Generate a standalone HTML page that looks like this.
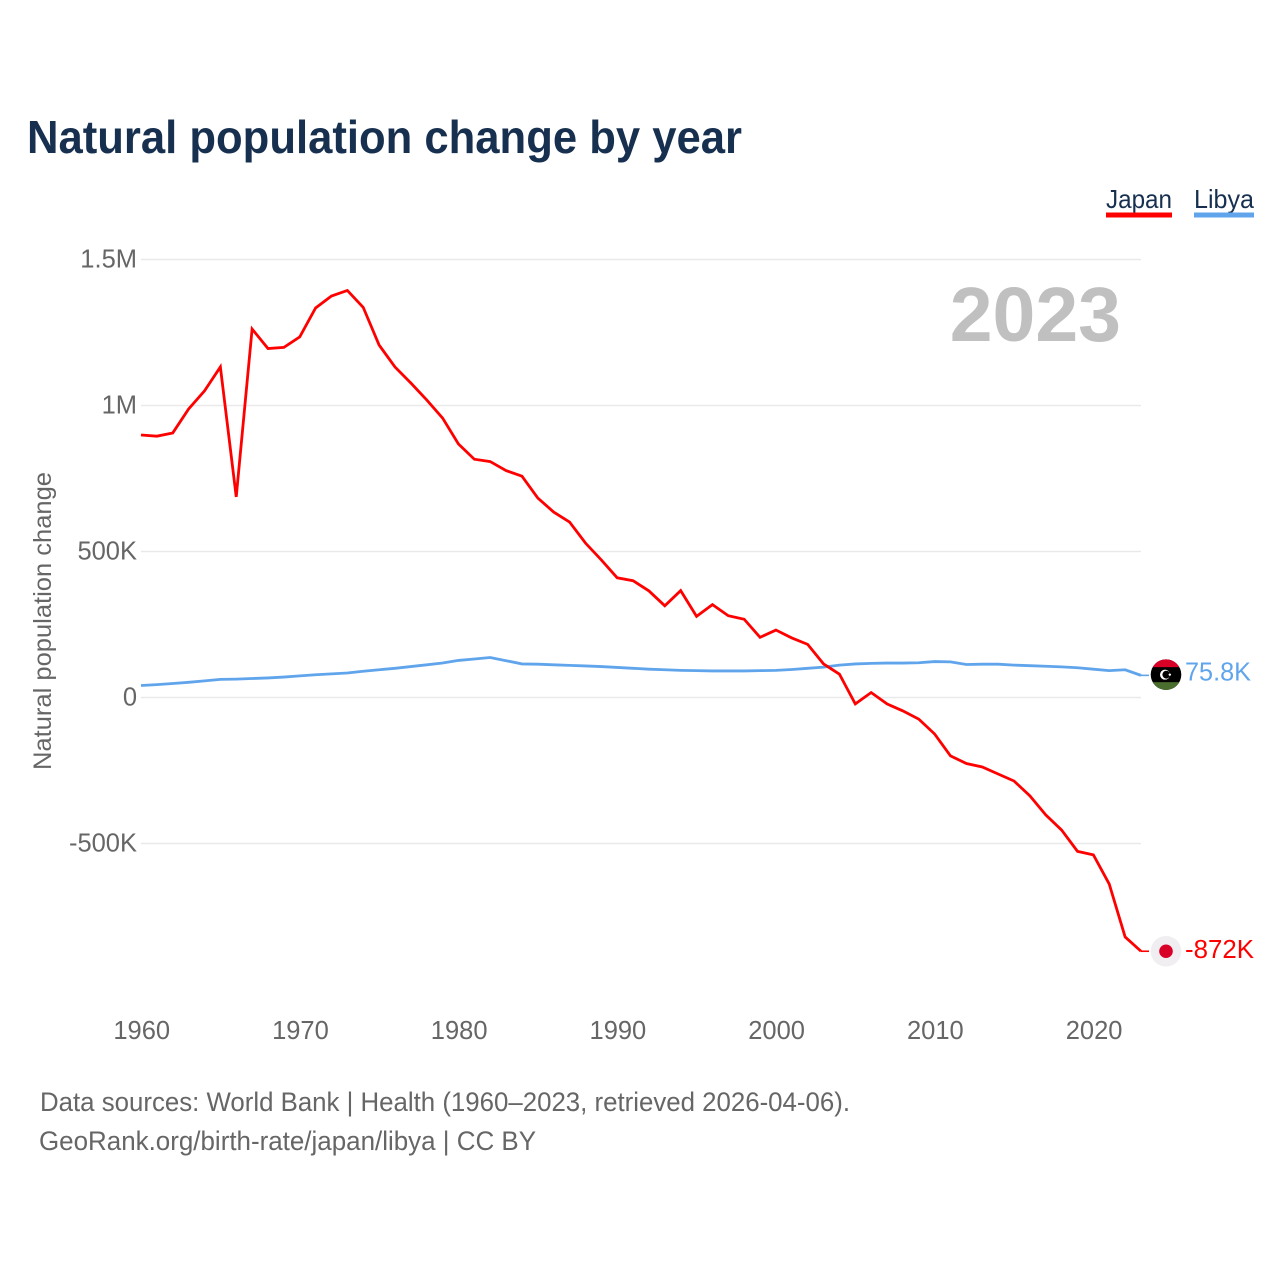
<!DOCTYPE html>
<html lang="en">
<head>
<meta charset="utf-8">
<title>Natural population change by year</title>
<style>
html,body{margin:0;padding:0;background:#fff;width:1280px;height:1280px;overflow:hidden}
svg{display:block;font-family:"Liberation Sans",sans-serif}
</style>
</head>
<body>
<svg id="chart" width="1280" height="1280" viewBox="0 0 1280 1280" xmlns="http://www.w3.org/2000/svg">
<rect width="1280" height="1280" fill="#fff"/>
<text x="27" y="153" font-size="46" font-weight="700" fill="#17304f" textLength="715" lengthAdjust="spacingAndGlyphs">Natural population change by year</text>
<g id="grid"></g>
<g id="yticks"></g>
<g id="xticks"></g>
<text transform="translate(51,770) rotate(-90)" font-size="25" fill="#666" textLength="298" lengthAdjust="spacingAndGlyphs">Natural population change</text>
<text x="1121" y="341" text-anchor="end" font-size="77" font-weight="700" fill="#c0c0c0">2023</text>
<g id="series"></g>
<g id="flags"></g>
<g>
<g>
<text x="1106" y="208" font-size="26" fill="#17304f" textLength="66" lengthAdjust="spacingAndGlyphs">Japan</text>
<rect x="1106" y="212.5" width="66" height="5" fill="#ff0000"/>
</g>
<g>
<text x="1194" y="208" font-size="26" fill="#17304f" textLength="60" lengthAdjust="spacingAndGlyphs">Libya</text>
<rect x="1194" y="212.5" width="60" height="5" fill="#60a5ec"/>
</g>
</g>
<text x="40" y="1111" font-size="27" fill="#666" textLength="810" lengthAdjust="spacingAndGlyphs">Data sources: World Bank | Health (1960–2023, retrieved 2026-04-06).</text>
<text x="39" y="1150" font-size="27" fill="#666" textLength="497" lengthAdjust="spacingAndGlyphs">GeoRank.org/birth-rate/japan/libya | CC BY</text>
</svg>
<script>
const years = [1960,1961,1962,1963,1964,1965,1966,1967,1968,1969,1970,1971,1972,1973,1974,1975,1976,1977,1978,1979,1980,1981,1982,1983,1984,1985,1986,1987,1988,1989,1990,1991,1992,1993,1994,1995,1996,1997,1998,1999,2000,2001,2002,2003,2004,2005,2006,2007,2008,2009,2010,2011,2012,2013,2014,2015,2016,2017,2018,2019,2020,2021,2022,2023];
const japanValues = [899,895,906,988,1050,1132,687,1262,1195,1199,1235,1334,1375,1394,1336,1207,1132,1077,1019,957,868,816,808,777,758,683,635,601,529,471,410,400,365,314,366,278,318,280,268,206,231,204,182,115,80,-22,17,-22,-46,-74,-125,-200,-226,-238,-262,-286,-337,-402,-454,-527,-539,-639,-820,-869];
const libyaValues = [41,44,48,52,57,62,63,65,67,70,74,78,81,84,90,95,100,106,112,118,127,132,137,126,115,114,112,110,108,106,103,100,97,95,93,92,91,91,91,92,93,96,100,104,111,115,117,118,118,119,123,122,113,114,114,111,109,107,105,102,97,92,95,75.8];
const xTickLabels = [1960,1970,1980,1990,2000,2010,2020];
const yTickValues = [1500,1000,500,0,-500];
const yTickLabels = ['1.5M','1M','500K','0','-500K'];
const endLabels = ['-872K','75.8K'];

const NS = 'http://www.w3.org/2000/svg';
function xScale(year){ return 141 + (year - 1960) * (1000 / 63); }
function yScale(value){ return 697.5 - value * (146 / 500); }
function make(tag, attrs, parent, text){
  const el = document.createElementNS(NS, tag);
  for (const k in attrs) el.setAttribute(k, attrs[k]);
  if (text !== undefined) el.textContent = text;
  parent.appendChild(el);
  return el;
}
const grid = document.getElementById('grid');
const yticks = document.getElementById('yticks');
const xticks = document.getElementById('xticks');
const series = document.getElementById('series');
const flags = document.getElementById('flags');

yTickValues.forEach(function(v, i){
  const line = make('line', {x1:xScale(1960), x2:xScale(2023), y1:yScale(v), y2:yScale(v), stroke:'#e9e9e9', 'stroke-width':1.6}, grid);
  
  
  const t = make('text', {x:137, y:yScale(v) + 8, 'text-anchor':'end', 'font-size':25.5, fill:'#666'}, yticks, yTickLabels[i]);
  
  
});
xTickLabels.forEach(function(y){
  const t = make('text', {x:xScale(y) + 0.7, y:1039, 'text-anchor':'middle', 'font-size':25.5, fill:'#666'}, xticks, String(y));
  
  
});
function points(values){
  return values.map(function(v, i){ return xScale(years[i]).toFixed(2) + ',' + yScale(v).toFixed(2); }).join(' ');
}
const libyaLine = make('polyline', {points:points(libyaValues), fill:'none', stroke:'#60a5ec', 'stroke-width':2.8, 'stroke-linejoin':'miter'}, series);


const japanLine = make('polyline', {points:points(japanValues), fill:'none', stroke:'#ff0000', 'stroke-width':2.8, 'stroke-linejoin':'miter'}, series);



const lastJ = japanValues[japanValues.length - 1];
const lastL = libyaValues[libyaValues.length - 1];
const endX = xScale(years[years.length - 1]);
const jConn = make('line', {x1:endX, x2:endX + 8, y1:yScale(lastJ), y2:yScale(lastJ), stroke:'#ff0000', 'stroke-width':1.6}, series);


const lConn = make('line', {x1:endX, x2:endX + 8, y1:yScale(lastL), y2:yScale(lastL), stroke:'#60a5ec', 'stroke-width':1.6}, series);



const cx = endX + 25;
const jy = yScale(lastJ);
const ly = yScale(lastL) - 0.7;
const jBg = make('circle', {cx:cx, cy:jy, r:15.3, fill:'#f0eef0'}, flags);


const jDot = make('circle', {cx:cx, cy:jy, r:6.8, fill:'#d80027'}, flags);



const lg = make('g', {}, flags);


const defs = make('defs', {}, lg);
const clip = make('clipPath', {id:'libya-clip'}, defs);
make('circle', {cx:cx, cy:ly, r:15.3}, clip);
const bands = make('g', {'clip-path':'url(#libya-clip)'}, lg);
make('rect', {x:cx - 16, y:ly - 16, width:32, height:32, fill:'#000'}, bands);
make('rect', {x:cx - 16, y:ly - 16, width:32, height:8.5, fill:'#d80027'}, bands);
make('rect', {x:cx - 16, y:ly + 7.5, width:32, height:8.5, fill:'#496e2d'}, bands);
make('circle', {cx:cx - 1, cy:ly, r:5, fill:'#fff'}, lg);
make('circle', {cx:cx + 0.3, cy:ly, r:3.9, fill:'#000'}, lg);
make('circle', {cx:cx + 3.8, cy:ly, r:1.2, fill:'#fff'}, lg);

const jLabel = make('text', {x:1185, y:jy + 7, 'font-size':25.5, fill:'#ff0000', textLength:69, lengthAdjust:'spacingAndGlyphs'}, flags, endLabels[0]);


const lLabel = make('text', {x:1185, y:ly + 6, 'font-size':25.5, fill:'#60a5ec', textLength:66, lengthAdjust:'spacingAndGlyphs'}, flags, endLabels[1]);


</script>
</body>
</html>
